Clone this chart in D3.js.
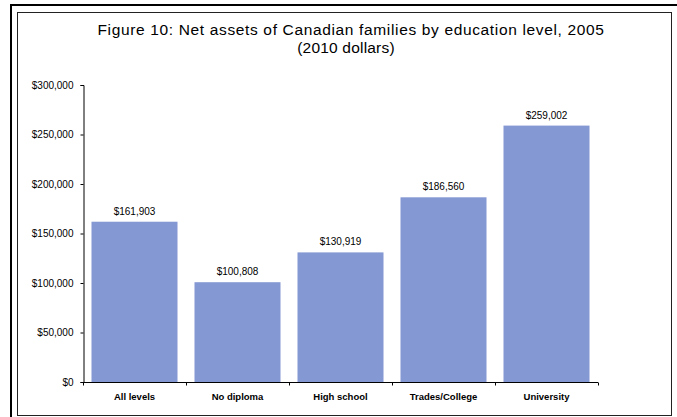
<!DOCTYPE html>
<html>
<head>
<meta charset="utf-8">
<script src="https://cdn.jsdelivr.net/npm/d3@7"></script>
<style>
  html, body { margin: 0; padding: 0; background: #fff; }
  svg { display: block; font-family: "Liberation Sans", Arial, sans-serif; }
</style>
</head>
<body>
<svg id="chart" width="677" height="417"></svg>
<script>
// Net assets by education level (2010 dollars)
const categories = ["All levels", "No diploma", "High school", "Trades/College", "University"];
const netAssets = [161903, 100808, 130919, 186560, 259002];
const yTicks = [0, 50000, 100000, 150000, 200000, 250000, 300000];
const titleLines = ["Figure 10: Net assets of Canadian families by education level, 2005", "(2010 dollars)"];

const svg = d3.select("#chart");
const W = 677, H = 417;

// page frame: heavy outer rule plus thin inner box
svg.append("line").attr("x1", 10).attr("x2", W).attr("y1", 5).attr("y2", 5)
  .attr("stroke", "#000").attr("stroke-width", 2);
svg.append("line").attr("x1", 11).attr("x2", 11).attr("y1", 4).attr("y2", H)
  .attr("stroke", "#000").attr("stroke-width", 2);
svg.append("rect").attr("x", 17.5).attr("y", 12.5).attr("width", 654).attr("height", 403)
  .attr("fill", "none").attr("stroke", "#222").attr("stroke-width", 1);

// title
svg.append("g").selectAll("text").data(titleLines).join("text")
  .attr("x", (d, i) => i === 0 ? 351 : 346)
  .attr("y", (d, i) => 35 + i * 18)
  .attr("text-anchor", "middle")
  .attr("font-size", 15.5)
  .attr("letter-spacing", (d, i) => i === 0 ? 0.65 : 0.2)
  .attr("fill", "#000")
  .text(d => d);

const x = d3.scaleBand().domain(categories).range([83, 598]).paddingInner(0.165).paddingOuter(0.0825);
const y = d3.scaleLinear().domain([0, 300000]).range([382, 85]);

// bars
svg.append("g").selectAll("rect").data(netAssets).join("rect")
  .attr("x", (d, i) => x(categories[i]))
  .attr("width", x.bandwidth())
  .attr("y", d => y(d))
  .attr("height", d => y(0) - y(d))
  .attr("fill", "#8499D3");

// value labels
const fmt = d3.format("$,");
svg.append("g").selectAll("text").data(netAssets).join("text")
  .attr("x", (d, i) => x(categories[i]) + x.bandwidth() / 2)
  .attr("y", d => y(d) - 7)
  .attr("text-anchor", "middle")
  .attr("font-size", 10)
  .attr("fill", "#000")
  .text(d => fmt(d));

// y axis
const yAxis = d3.axisLeft(y).tickValues(yTicks).tickFormat(d3.format("$,")).tickSize(3).tickPadding(7);
const gy = svg.append("g").attr("transform", "translate(83.5,0)").call(yAxis);
gy.select(".domain").attr("stroke", "#000");
gy.selectAll(".tick line").attr("stroke", "#000");
gy.selectAll(".tick text").attr("font-size", 10).attr("fill", "#000").attr("font-family", "Liberation Sans, Arial, sans-serif");

// x axis with boundary ticks between categories
const xBase = d3.scaleLinear().domain([0, categories.length]).range([83, 598]);
const gx = svg.append("g").attr("transform", "translate(0,382.5)");
gx.append("line").attr("x1", 83).attr("x2", 598).attr("stroke", "#000");
gx.selectAll("line.t").data(d3.range(categories.length + 1)).join("line").attr("class", "t")
  .attr("x1", d => Math.round(xBase(d)) + 0.5).attr("x2", d => Math.round(xBase(d)) + 0.5)
  .attr("y1", 0).attr("y2", 3).attr("stroke", "#000");
gx.selectAll("text").data(categories).join("text")
  .attr("x", d => x(d) + x.bandwidth() / 2)
  .attr("y", 17)
  .attr("text-anchor", "middle")
  .attr("font-size", 9.5)
  .attr("font-weight", "bold")
  .attr("fill", "#000")
  .text(d => d);
</script>
</body>
</html>
